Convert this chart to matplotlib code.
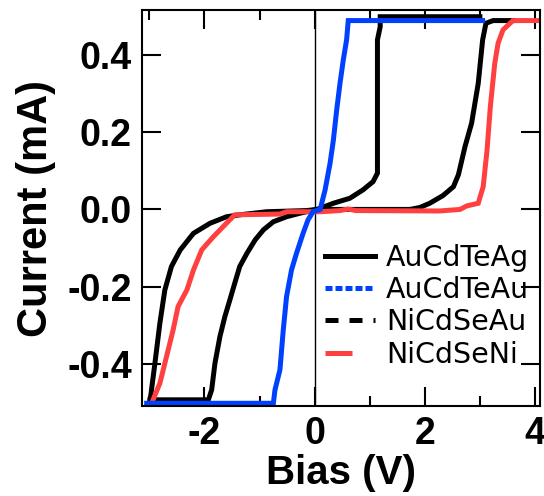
import numpy as np
import matplotlib.pyplot as plt
from matplotlib.lines import Line2D

# AuCdTeAg (outer black)
v_ag = [-2.99, -2.99, -2.90, -2.81, -2.72, -2.60, -2.44, -2.20, -1.90, -1.60, -1.36, -0.87, -0.15,
        0.04, 1.06, 1.73, 1.91, 2.09, 2.33, 2.52, 2.61, 2.73, 2.85, 2.97, 3.05, 3.11, 3.24, 3.60]
i_ag = [-0.500, -0.499, -0.399, -0.295, -0.209, -0.148, -0.105, -0.062, -0.036, -0.019, -0.014, -0.006, -0.003,
        0.0, 0.0, 0.0, 0.005, 0.016, 0.036, 0.059, 0.090, 0.163, 0.224, 0.327, 0.440, 0.483, 0.490, 0.490]

# AuCdTeAu (blue)
v_au = [-3.05, -0.75, -0.72, -0.63, -0.57, -0.51, -0.42, -0.33, -0.21, -0.12, -0.03,
        0.10, 0.19, 0.28, 0.34, 0.40, 0.46, 0.52, 0.58, 0.61, 3.05]
i_au = [-0.503, -0.503, -0.468, -0.416, -0.313, -0.226, -0.157, -0.114, -0.062, -0.027, -0.006,
        0.0, 0.051, 0.120, 0.180, 0.258, 0.327, 0.388, 0.440, 0.490, 0.490]

# NiCdSeAu (inner black)
v_sa = [-2.99, -1.93, -1.87, -1.81, -1.72, -1.63, -1.54, -1.45, -1.36, -1.23, -1.08, -0.93, -0.75, -0.51, -0.27,
        0.04, 0.10, 0.34, 0.64, 0.88, 1.06, 1.14, 1.14, 1.19, 1.19, 3.00]
i_sa = [-0.494, -0.494, -0.468, -0.399, -0.330, -0.278, -0.235, -0.191, -0.148, -0.114, -0.079, -0.053, -0.032, -0.019, -0.010,
        0.0, 0.003, 0.016, 0.029, 0.051, 0.072, 0.094, 0.440, 0.474, 0.500, 0.500]

# NiCdSeNi (red)
v_ni = [-2.96, -2.81, -2.69, -2.57, -2.48, -2.32, -2.20, -2.05, -1.84, -1.63, -1.45, -0.63, -0.51, 0.10,
        0.46, 0.60, 0.75, 2.27, 2.64, 2.76, 2.97, 3.06, 3.13, 3.19, 3.27, 3.33, 3.42, 3.60, 4.10]
i_ni = [-0.503, -0.451, -0.382, -0.313, -0.252, -0.209, -0.157, -0.105, -0.071, -0.040, -0.014, -0.012, -0.006, -0.006,
        -0.003, 0.001, -0.003, -0.004, 0.0, 0.009, 0.016, 0.059, 0.154, 0.267, 0.379, 0.431, 0.466, 0.490, 0.490]

labels = ["AuCdTeAg", "AuCdTeAu", "NiCdSeAu", "NiCdSeNi"]
xticks = [-2, 0, 2, 4]
xticklabels = ["-2", "0", "2", "4"]
yticks = [-0.4, -0.2, 0.0, 0.2, 0.4]
yticklabels = ["-0.4", "-0.2", "0.0", "0.2", "0.4"]

fig = plt.figure(figsize=(5.44, 4.96), dpi=100)
ax = fig.add_axes([0.2605, 0.1815, 0.732, 0.798])

lw = 3.6
ax.axvline(0, color="black", lw=1.0, zorder=1)
ax.plot(v_ag, i_ag, color="black", lw=lw, solid_joinstyle="miter")
ax.plot(v_sa, i_sa, color="black", lw=lw, solid_joinstyle="miter")
ax.plot(v_ni, i_ni, color="#ff4040", lw=lw, solid_joinstyle="miter")
ax.plot(v_au, i_au, color="#0040ff", lw=lw, solid_joinstyle="miter")

ax.set_xlim(-3.14, 4.09)
ax.set_ylim(-0.51, 0.517)
ax.set_xticks(xticks)
ax.set_xticklabels(xticklabels)
ax.set_xticks([-3, -1, 1, 3], minor=True)
ax.set_yticks(yticks)
ax.set_yticklabels(yticklabels)

for s in ax.spines.values():
    s.set_linewidth(1.5)
ax.tick_params(which="both", direction="in", top=True, right=True, width=1.5)
ax.tick_params(which="major", length=14, pad=7)
ax.tick_params(which="minor", length=7)
for t in ax.get_xticklabels() + ax.get_yticklabels():
    t.set_fontfamily("Liberation Sans")
    t.set_fontweight("bold")
    t.set_fontsize(27)

ax.set_xlabel("Bias (V)", fontsize=29, fontweight="bold", family="Liberation Sans", labelpad=2)
ax.set_ylabel("Current (mA)", fontsize=30, fontweight="bold", family="Liberation Sans", labelpad=8)

# legend handles styled as in the original legend (dotted blue, dashed black, short red)
handles = [
    Line2D([], [], color="black", lw=3.6, ls="-"),
    Line2D([], [], color="#0040ff", lw=3.6, ls=(0, (1.4, 0.6))),
    Line2D([], [], color="black", lw=3.6, ls=(0, (2.6, 2.2))),
    Line2D([], [], color="#ff4040", lw=3.6, ls=(0, (5.4, 100))),
]
ax.legend(handles, labels, loc="upper left", bbox_to_anchor=(0.46, 0.41), frameon=False,
          prop={"family": "DejaVu Sans", "size": 20.5}, handlelength=1.75, handletextpad=0.4,
          labelspacing=0.15, borderpad=0, borderaxespad=0)

fig.savefig("out.png", dpi=100)
